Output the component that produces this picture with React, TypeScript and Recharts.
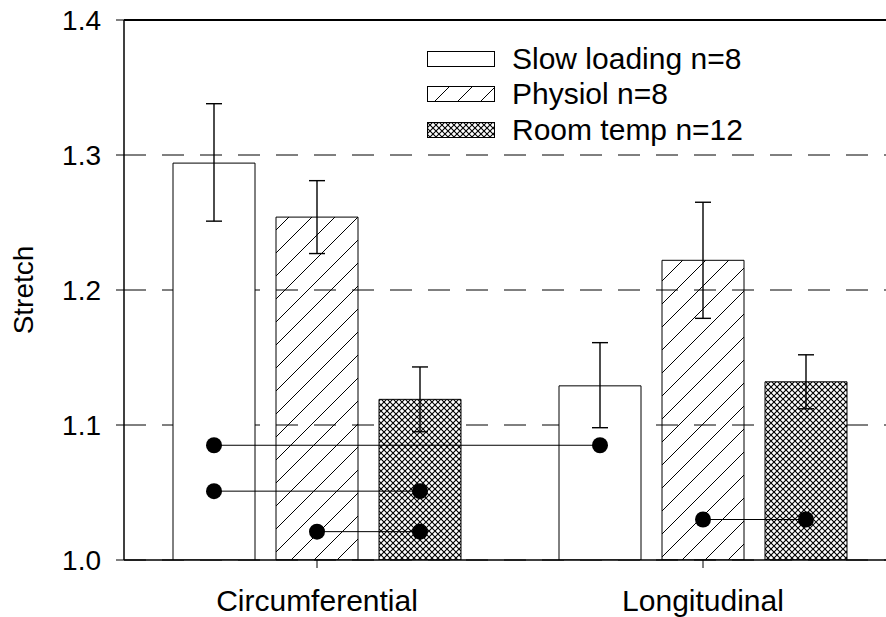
import React from 'react';
import {
  ComposedChart,
  Bar,
  XAxis,
  YAxis,
  CartesianGrid,
  ErrorBar,
  Scatter,
  ReferenceLine,
  Legend
} from 'recharts';

const categories = ['Circumferential', 'Longitudinal'];
const seriesNames = ['Slow loading n=8', 'Physiol n=8', 'Room temp n=12'];

const slowLoading = [1.294, 1.129];
const slowLoadingErr = [[0.043, 0.044], [0.031, 0.032]];
const physiol = [1.254, 1.222];
const physiolErr = [[0.027, 0.027], [0.043, 0.043]];
const roomTemp = [1.119, 1.132];
const roomTempErr = [[0.024, 0.024], [0.02, 0.02]];

const yTicks = [1.0, 1.1, 1.2, 1.3, 1.4];

// linked markers: [category, series] at each end, and the stretch level
const pairs = [
  { from: [0, 0], to: [1, 0], y: 1.085 },
  { from: [0, 0], to: [0, 2], y: 1.051 },
  { from: [0, 1], to: [0, 2], y: 1.021 },
  { from: [1, 1], to: [1, 2], y: 1.03 }
];

const FONT = '"Liberation Sans", Arial, sans-serif';
const CHART_W = 900;
const CHART_H = 617;
const AXIS_W = 124;
const RIGHT = 4;
const BAR_SIZE = 82;
const BAR_GAP = 21;
const BAND = (CHART_W - AXIS_W - RIGHT) / categories.length;

const fills = ['#fff', 'url(#hatch)', 'url(#cross)'];

const data = categories.map((name, i) => ({
  name,
  slow: slowLoading[i],
  slowErr: slowLoadingErr[i],
  physiol: physiol[i],
  physiolErr: physiolErr[i],
  room: roomTemp[i],
  roomErr: roomTempErr[i]
}));

// centre of bar [category, series] in category units
const barCenter = ([cat, s]: number[]) => cat + 0.5 + ((s - 1) * (BAR_SIZE + BAR_GAP)) / BAND;

const pairData = pairs.map((p) => [
  { x: barCenter(p.from), y: p.y },
  { x: barCenter(p.to), y: p.y }
]);

const Dot = (props: any) => <circle cx={props.cx} cy={props.cy} r={8} fill="#000" />;

const renderLegend = () => (
  <div style={{ fontFamily: FONT, fontSize: 30, color: '#000' }}>
    {seriesNames.map((name, i) => (
      <div key={name} style={{ display: 'flex', alignItems: 'center', height: 35.6 }}>
        <svg width={68} height={16} style={{ display: 'block' }}>
          <rect x={0.5} y={0.5} width={67} height={15} fill={fills[i]} stroke="#000" />
        </svg>
        <span style={{ marginLeft: 17, lineHeight: 1 }}>{name}</span>
      </div>
    ))}
  </div>
);

const tickStyle = { fill: '#000', fontSize: 28, fontFamily: FONT };

export default function App() {
  return (
    <div style={{ position: 'fixed', left: 0, top: 0, width: 886, height: 617, overflow: 'hidden', background: '#fff' }}>
      <ComposedChart
        width={CHART_W}
        height={CHART_H}
        data={data}
        margin={{ top: 20, right: RIGHT, bottom: 0, left: 0 }}
        barSize={BAR_SIZE}
        barGap={BAR_GAP}
      >
        <defs>
          <pattern id="hatch" patternUnits="userSpaceOnUse" width={23} height={23}>
            <path d="M0,23 L23,0 M-3,3 L3,-3 M20,26 L26,20" stroke="#000" strokeWidth={1} />
          </pattern>
          <pattern id="cross" patternUnits="userSpaceOnUse" width={6} height={6}>
            <rect width={6} height={6} fill="#fff" />
            <path d="M0,0 L6,6 M6,0 L0,6" stroke="#000" strokeWidth={1.1} />
          </pattern>
        </defs>
        <CartesianGrid vertical={false} stroke="#000" strokeDasharray="22 16" />
        <XAxis
          dataKey="name"
          height={57}
          stroke="#000"
          axisLine={{ stroke: '#000', strokeWidth: 1.5 }}
          tickLine={{ stroke: '#000' }}
          tickSize={8}
          tickMargin={22}
          tick={{ ...tickStyle, fontSize: 30 }}
        />
        <XAxis xAxisId="pos" type="number" dataKey="x" domain={[0, 2]} hide allowDataOverflow />
        <YAxis
          width={AXIS_W}
          domain={[1.0, 1.4]}
          ticks={yTicks}
          allowDataOverflow
          axisLine={{ stroke: '#000', strokeWidth: 1.5 }}
          tickLine={{ stroke: '#000' }}
          tickSize={8}
          tickMargin={15}
          tick={tickStyle}
          tickFormatter={(v: number) => v.toFixed(1)}
          label={{
            value: 'Stretch',
            angle: -90,
            position: 'insideLeft',
            offset: 23,
            style: { textAnchor: 'middle', fontSize: 28, fontFamily: FONT, fill: '#000' }
          }}
        />
        <YAxis yAxisId="pos" dataKey="y" domain={[1.0, 1.4]} hide allowDataOverflow />
        <ReferenceLine y={1.4} stroke="#000" strokeWidth={2} />
        <Bar dataKey="slow" name={seriesNames[0]} fill={fills[0]} stroke="#000" strokeWidth={1} isAnimationActive={false}>
          <ErrorBar dataKey="slowErr" width={8} stroke="#000" strokeWidth={1.4} />
        </Bar>
        <Bar dataKey="physiol" name={seriesNames[1]} fill={fills[1]} stroke="#000" strokeWidth={1} isAnimationActive={false}>
          <ErrorBar dataKey="physiolErr" width={8} stroke="#000" strokeWidth={1.4} />
        </Bar>
        <Bar dataKey="room" name={seriesNames[2]} fill={fills[2]} stroke="#000" strokeWidth={1} isAnimationActive={false}>
          <ErrorBar dataKey="roomErr" width={8} stroke="#000" strokeWidth={1.4} />
        </Bar>
        {pairData.map((pts, i) => (
          <Scatter
            key={i}
            data={pts}
            xAxisId="pos"
            yAxisId="pos"
            line={{ stroke: '#000', strokeWidth: 1 }}
            shape={Dot}
            legendType="none"
            isAnimationActive={false}
          />
        ))}
        <Legend
          layout="vertical"
          align="center"
          verticalAlign="middle"
          content={renderLegend}
          wrapperStyle={{ left: 427, top: 41, width: 'auto' }}
        />
      </ComposedChart>
    </div>
  );
}
